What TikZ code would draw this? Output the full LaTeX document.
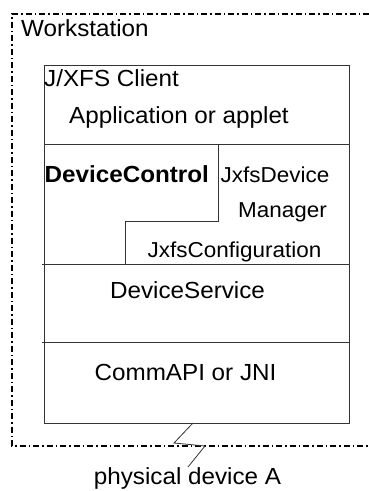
\documentclass[tikz,border=0pt]{standalone}
\usepackage{fontspec}
\setmainfont[FakeStretch=1.04]{Liberation Sans}
\begin{document}
\begin{tikzpicture}[x=1pt,y=-1pt,
  lbl/.style={inner sep=0pt,font=\fontsize{23.3}{26}\selectfont},
  small lbl/.style={inner sep=0pt,font=\fontsize{21.6}{24}\selectfont},
  thin line/.style={line width=0.8pt,black!80},
  dashdot line/.style={line width=1.5pt,dash pattern=on 6pt off 3pt on 1.5pt off 3pt}]
\useasboundingbox (0,0) rectangle (369,491);
% workstation boundary
\draw[dashdot line] (369,14) -- (12,14) -- (12,446) -- (369,446);
% stack box
\node[draw,thin line,minimum width=305pt,minimum height=358pt,inner sep=0pt,anchor=north west] (box) at (44,65) {};
\coordinate (l1a) at (44,144); \coordinate (l1b) at (349,144);
\coordinate (l2a) at (42,264); \coordinate (l2b) at (349,264);
\coordinate (l3a) at (42,342); \coordinate (l3b) at (349,342);
\draw[thin line] (l1a) -- (l1b);
\draw[thin line] (l2a) -- (l2b);
\draw[thin line] (l3a) -- (l3b);
\coordinate (s1) at (218,144); \coordinate (s2) at (218,221);
\coordinate (s3) at (125,221); \coordinate (s4) at (125,265);
\draw[thin line] (s1) -- (s2) -- (s3) -- (s4);
% labels
\node[lbl,anchor=base west] (ws) at (21,36.7) {Workstation};
\node[lbl,anchor=base west] (client) at (44,86.5) {J/XFS Client};
\node[lbl,anchor=base] (app) at (179,123) {Application or applet};
\node[lbl,anchor=base west,font=\fontsize{23.3}{26}\selectfont\bfseries] (dc) at (44.5,182.7) {DeviceControl};
\node[small lbl,anchor=base west] (jdm1) at (220.5,182.7) {JxfsDevice};
\node[small lbl,anchor=base] (jdm2) at (282.5,217) {Manager};
\node[small lbl,anchor=base] (jc) at (234.5,257) {JxfsConfiguration};
\node[lbl,anchor=base] (ds) at (187.5,298) {DeviceService};
\node[lbl,anchor=base] (comm) at (185.5,380) {CommAPI or JNI};
\node[lbl,anchor=base] (phys) at (187.5,484) {physical device A};
% zigzag link
\coordinate (z0) at (193,423); \coordinate (z1) at (174,443);
\coordinate (z2) at (205,446); \coordinate (z3) at (188,467);
\draw[thin line] (z0) -- (z1) -- (z2) -- (z3);
\end{tikzpicture}
\end{document}
